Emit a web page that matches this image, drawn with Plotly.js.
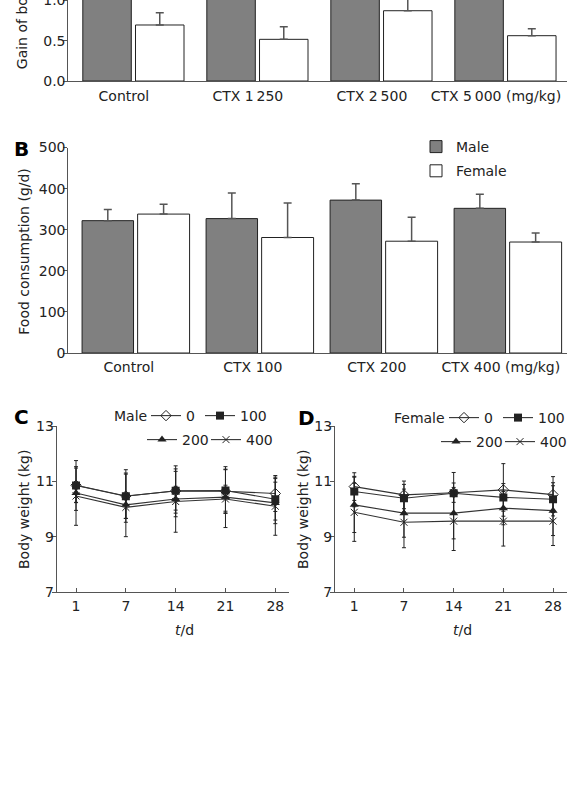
<!DOCTYPE html>
<html><head><meta charset="utf-8">
<script src="https://cdn.plot.ly/plotly-3.0.1.min.js"></script>
<style>html,body{margin:0;padding:0;background:#fff;} #chart{width:571px;height:796px;}</style>
</head><body><div id="chart"></div>
<script>
// ---- Panel A (top, partly cropped): gain of body weight ----
const groupsA = ['Control', 'CTX 1\u2009250', 'CTX 2\u2009500', 'CTX 5\u2009000 (mg/kg)'];
const gainMale = [1.62, 1.48, 1.70, 1.55];
const gainMaleErr = [0.20, 0.20, 0.20, 0.20];
const gainFemale = [0.695, 0.517, 0.872, 0.562];
const gainFemaleErr = [0.152, 0.157, 0.160, 0.087];

// ---- Panel B: food consumption ----
const groupsB = ['Control', 'CTX 100', 'CTX 200', 'CTX 400 (mg/kg)'];
const foodMale = [322, 327, 372, 352];
const foodMaleErr = [27, 62, 40, 34];
const foodFemale = [338, 281, 272, 270];
const foodFemaleErr = [24, 84, 58, 22];
const noLowerErr = [0, 0, 0, 0];

// ---- Panels C / D: body weight over time ----
const days = ['1', '7', '14', '21', '28'];
const doseNames = ['0', '100', '200', '400'];

const maleW0 = [10.86, 10.47, 10.65, 10.64, 10.56];
const maleW100 = [10.85, 10.46, 10.66, 10.67, 10.35];
const maleW200 = [10.58, 10.15, 10.36, 10.43, 10.22];
const maleW400 = [10.47, 10.06, 10.27, 10.36, 10.10];
const maleE0 = [0.62, 0.95, 0.80, 0.80, 0.65];
const maleE100 = [0.90, 0.80, 0.70, 0.75, 0.75];
const maleE200 = [0.35, 1.15, 1.20, 1.10, 0.75];
const maleE400 = [1.06, 0.40, 0.55, 0.50, 1.05];

const femW0 = [10.81, 10.51, 10.59, 10.69, 10.52];
const femW100 = [10.63, 10.39, 10.57, 10.42, 10.35];
const femW200 = [10.15, 9.85, 9.85, 10.03, 9.94];
const femW400 = [9.88, 9.52, 9.56, 9.56, 9.56];
const femE0 = [0.50, 0.50, 0.35, 0.95, 0.65];
const femE100 = [0.55, 0.50, 0.75, 0.50, 0.60];
const femE200 = [1.00, 0.87, 0.93, 0.60, 0.90];
const femE400 = [1.05, 0.92, 1.06, 0.90, 0.88];

const FONT = 'DejaVu Sans, Verdana, sans-serif';
const INK = '#222';
const AX = '#555';

// bar geometry (style only): [offset, width] per panel and sex
const barGeom = {
  x:  { male: [-0.331, 0.391], female: [0.094, 0.391] },
  x2: { male: [-0.377, 0.415], female: [0.071, 0.419] }
};

function barTrace(x, y, err, xa, ya, isMale, name, legendOn) {
  const g = barGeom[xa][isMale ? 'male' : 'female'];
  return {
    type: 'bar', x: x, y: y, xaxis: xa, yaxis: ya, name: name,
    showlegend: legendOn, legend: 'legend', legendgroup: name,
    offset: g[0], width: g[1],
    marker: { color: isMale ? '#808080' : '#ffffff', line: { color: INK, width: 1 } },
    error_y: { type: 'data', array: err, arrayminus: noLowerErr, color: '#555', thickness: 1.5, width: 4 },
    hoverinfo: 'y'
  };
}

const markerDefs = [
  { symbol: 'diamond-open', size: 8, color: INK, line: { width: 1, color: INK } },
  { symbol: 'square', size: 8, color: INK },
  { symbol: 'triangle-up', size: 8, color: INK },
  { symbol: 'x-thin-open', size: 7, color: INK, line: { width: 1, color: INK } }
];
const legendWidths = [9, 28, 19, 28];

function lineTrace(y, err, idx, xa, ya, leg) {
  return {
    type: 'scatter', mode: 'lines+markers', x: days, y: y, xaxis: xa, yaxis: ya,
    name: doseNames[idx], legend: leg, showlegend: true, legendwidth: legendWidths[idx],
    line: { color: '#333', width: 1.1 },
    marker: markerDefs[idx],
    error_y: { type: 'data', array: err, color: INK, thickness: 1, width: 2 }
  };
}

const data = [
  barTrace(groupsA, gainMale, gainMaleErr, 'x', 'y', true, 'Male', false),
  barTrace(groupsA, gainFemale, gainFemaleErr, 'x', 'y', false, 'Female', false),
  barTrace(groupsB, foodMale, foodMaleErr, 'x2', 'y2', true, 'Male', true),
  barTrace(groupsB, foodFemale, foodFemaleErr, 'x2', 'y2', false, 'Female', true),
  lineTrace(maleW0, maleE0, 0, 'x3', 'y3', 'legend2'),
  lineTrace(maleW100, maleE100, 1, 'x3', 'y3', 'legend2'),
  lineTrace(maleW200, maleE200, 2, 'x3', 'y3', 'legend3'),
  lineTrace(maleW400, maleE400, 3, 'x3', 'y3', 'legend3'),
  lineTrace(femW0, femE0, 0, 'x4', 'y4', 'legend4'),
  lineTrace(femW100, femE100, 1, 'x4', 'y4', 'legend4'),
  lineTrace(femW200, femE200, 2, 'x4', 'y4', 'legend5'),
  lineTrace(femW400, femE400, 3, 'x4', 'y4', 'legend5')
];

const tickFont = { family: FONT, size: 14, color: INK };
function xCat(domain, anchor, range, ticks, standoff) {
  return {
    domain: domain, anchor: anchor, type: 'category', range: range,
    showline: true, linecolor: AX, linewidth: 1, showgrid: false, zeroline: false,
    ticks: ticks ? 'inside' : '', ticklen: 4, tickcolor: AX, tickfont: tickFont,
    ticklabelstandoff: standoff, fixedrange: true
  };
}
function yLin(domain, anchor, range, tickvals, fmt) {
  return {
    domain: domain, anchor: anchor, range: range, tickvals: tickvals, tickformat: fmt,
    showline: true, linecolor: AX, linewidth: 1, showgrid: false, zeroline: false,
    ticks: 'outside', ticklen: 4, tickcolor: AX, tickfont: tickFont, fixedrange: true,
    ticklabelstandoff: -5, ticklabeloverflow: 'allow'
  };
}

function P(px) { return 1 - px / 796; }
function X(px) { return px / 571; }

const legendBase = { font: { family: FONT, size: 14, color: INK }, bgcolor: 'rgba(0,0,0,0)', borderwidth: 0 };
const titleFont = { family: FONT, size: 14, color: INK };

const layout = {
  width: 571, height: 796,
  margin: { l: 0, r: 0, t: 0, b: 0, autoexpand: false },
  paper_bgcolor: '#fff', plot_bgcolor: '#fff',
  font: { family: FONT, size: 14, color: INK },
  barmode: 'overlay',
  showlegend: true,
  xaxis: xCat([X(68.3), X(566.7)], 'y', [-0.448, 3.571], false, 2),
  yaxis: yLin([P(81), 1], 'x', [0, 1.005], [0, 0.5, 1.0], '.1f'),
  xaxis2: xCat([X(68.3), X(566.7)], 'y2', [-0.488, 3.531], false, 1),
  yaxis2: yLin([P(353), P(147.5)], 'x2', [0, 500], [0, 100, 200, 300, 400, 500], ''),
  xaxis3: xCat([X(56.7), X(289)], 'y3', [-0.388, 4.275], true, 1),
  yaxis3: yLin([P(592), P(426)], 'x3', [7, 13], [7, 9, 11, 13], ''),
  xaxis4: xCat([X(335), X(566.7)], 'y4', [-0.388, 4.275], true, 1),
  yaxis4: yLin([P(592), P(426)], 'x4', [7, 13], [7, 9, 11, 13], ''),
  legend: Object.assign({}, legendBase, {
    x: X(416), y: P(131), xanchor: 'left', yanchor: 'top',
    orientation: 'v', traceorder: 'grouped', tracegroupgap: 3
  }),
  legend2: Object.assign({}, legendBase, { x: X(146), y: P(400), xanchor: 'left', yanchor: 'top', orientation: 'h' }),
  legend3: Object.assign({}, legendBase, { x: X(142), y: P(424), xanchor: 'left', yanchor: 'top', orientation: 'h' }),
  legend4: Object.assign({}, legendBase, { x: X(444), y: P(402), xanchor: 'left', yanchor: 'top', orientation: 'h' }),
  legend5: Object.assign({}, legendBase, { x: X(436), y: P(426), xanchor: 'left', yanchor: 'top', orientation: 'h' }),
  annotations: [
    { text: 'Gain of body weight (kg)', textangle: -90, x: X(22), y: P(71.7), xref: 'paper', yref: 'paper',
      xanchor: 'center', yanchor: 'bottom', showarrow: false, font: titleFont },
    { text: 'Food consumption (g/d)', textangle: -90, x: X(24), y: P(251.7), xref: 'paper', yref: 'paper',
      xanchor: 'center', yanchor: 'middle', showarrow: false, font: titleFont },
    { text: 'Body weight (kg)', textangle: -90, x: X(24), y: P(510), xref: 'paper', yref: 'paper',
      xanchor: 'center', yanchor: 'middle', showarrow: false, font: titleFont },
    { text: 'Body weight (kg)', textangle: -90, x: X(303), y: P(510), xref: 'paper', yref: 'paper',
      xanchor: 'center', yanchor: 'middle', showarrow: false, font: titleFont },
    { text: '<i>t</i>/d', x: X(184), y: P(630), xref: 'paper', yref: 'paper',
      xanchor: 'center', yanchor: 'middle', showarrow: false, font: titleFont },
    { text: '<i>t</i>/d', x: X(462), y: P(630), xref: 'paper', yref: 'paper',
      xanchor: 'center', yanchor: 'middle', showarrow: false, font: titleFont },
    { text: 'Male', x: X(149), y: P(416), xref: 'paper', yref: 'paper',
      xanchor: 'right', yanchor: 'middle', showarrow: false, font: titleFont },
    { text: 'Female', x: X(447), y: P(418), xref: 'paper', yref: 'paper',
      xanchor: 'right', yanchor: 'middle', showarrow: false, font: titleFont },
    { text: '<b>B</b>', x: X(21.7), y: P(149), xref: 'paper', yref: 'paper',
      xanchor: 'center', yanchor: 'middle', showarrow: false, font: { family: FONT, size: 20, color: '#000' } },
    { text: '<b>C</b>', x: X(21.7), y: P(416.7), xref: 'paper', yref: 'paper',
      xanchor: 'center', yanchor: 'middle', showarrow: false, font: { family: FONT, size: 20, color: '#000' } },
    { text: '<b>D</b>', x: X(306.7), y: P(418), xref: 'paper', yref: 'paper',
      xanchor: 'center', yanchor: 'middle', showarrow: false, font: { family: FONT, size: 20, color: '#000' } }
  ]
};

Plotly.newPlot('chart', data, layout, { displayModeBar: false, staticPlot: true });
</script>
</body></html>
